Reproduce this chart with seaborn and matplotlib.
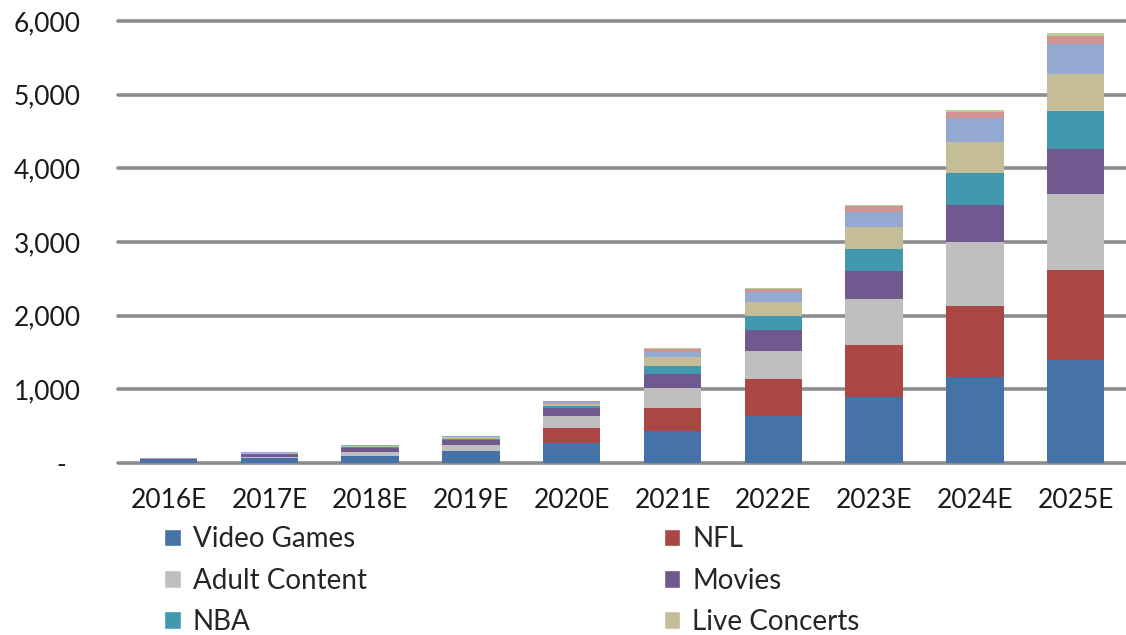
import numpy as np
import seaborn as sns
import matplotlib.pyplot as plt
from matplotlib.patches import Patch

years = ["2016E", "2017E", "2018E", "2019E", "2020E",
         "2021E", "2022E", "2023E", "2024E", "2025E"]

video_games = [35, 61, 100, 155, 275, 434, 642, 900, 1167, 1398]
nfl = [0, 0, 0, 0, 205, 316, 494, 706, 963, 1221]
adult_content = [8, 23, 45, 90, 150, 263, 388, 616, 868, 1031]
movies = [12, 36, 55, 65, 110, 190, 281, 384, 502, 611]
nba = [0, 5, 10, 15, 35, 117, 190, 299, 434, 520]
live_concerts = [3, 15, 25, 30, 30, 122, 194, 303, 420, 498]
other_1 = [3, 3, 5, 10, 20, 68, 136, 204, 326, 407]
other_2 = [4, 2, 3, 5, 15, 33, 34, 70, 85, 109]
other_3 = [0, 0, 0, 0, 5, 13, 15, 25, 30, 37]

series = [
    ("Video Games", video_games, "#4572A7"),
    ("NFL", nfl, "#AA4643"),
    ("Adult Content", adult_content, "#BFBFBF"),
    ("Movies", movies, "#71588F"),
    ("NBA", nba, "#4198AF"),
    ("Live Concerts", live_concerts, "#C4BD97"),
    ("Other 1", other_1, "#93A9CF"),
    ("Other 2", other_2, "#D19392"),
    ("Other 3", other_3, "#B9CD96"),
]


def main():
    sns.set_style("white")
    plt.rcParams["font.family"] = ["Lato", "DejaVu Sans"]

    fig = plt.figure(figsize=(11.26, 6.35), dpi=100)
    ax = fig.add_axes([0.105, 0.271, 0.895, 0.702])

    # stacked bars: draw cumulative totals from the top segment down
    cum = np.cumsum([s[1] for s in series], axis=0)
    for i in range(len(series) - 1, -1, -1):
        sns.barplot(x=years, y=cum[i], color=series[i][2], width=0.57,
                    saturation=1, ax=ax, zorder=3, linewidth=0)

    ax.set_ylim(0, 6050)
    ax.set_xlim(-0.5, 9.5)
    ticks = [0, 1000, 2000, 3000, 4000, 5000, 6000]
    ax.set_yticks(ticks)
    ax.set_yticklabels(["-  "] + [f"{t:,}" for t in ticks[1:]])
    for t in ticks:
        ax.axhline(t, color="#8C8C8C", lw=2.6, zorder=1, clip_on=False)

    for sp in ax.spines.values():
        sp.set_visible(False)
    ax.tick_params(axis="y", length=0, pad=27, labelsize=19, labelcolor="#1a1a1a")
    ax.tick_params(axis="x", length=0, pad=18, labelsize=19, labelcolor="#1a1a1a")
    ax.set_xlabel("")
    ax.set_ylabel("")

    order = [0, 2, 4, 1, 3, 5]
    handles = [Patch(facecolor=series[i][2], label=series[i][0]) for i in order]
    fig.legend(handles=handles, ncol=2, loc="upper left",
               bbox_to_anchor=(0.1335, 0.193), frameon=False, fontsize=20,
               handlelength=0.6, handleheight=0.6, handletextpad=0.42,
               columnspacing=10.7, labelspacing=0.55, borderpad=0)

    plt.savefig("out.png", dpi=100)


if __name__ == "__main__":
    main()
